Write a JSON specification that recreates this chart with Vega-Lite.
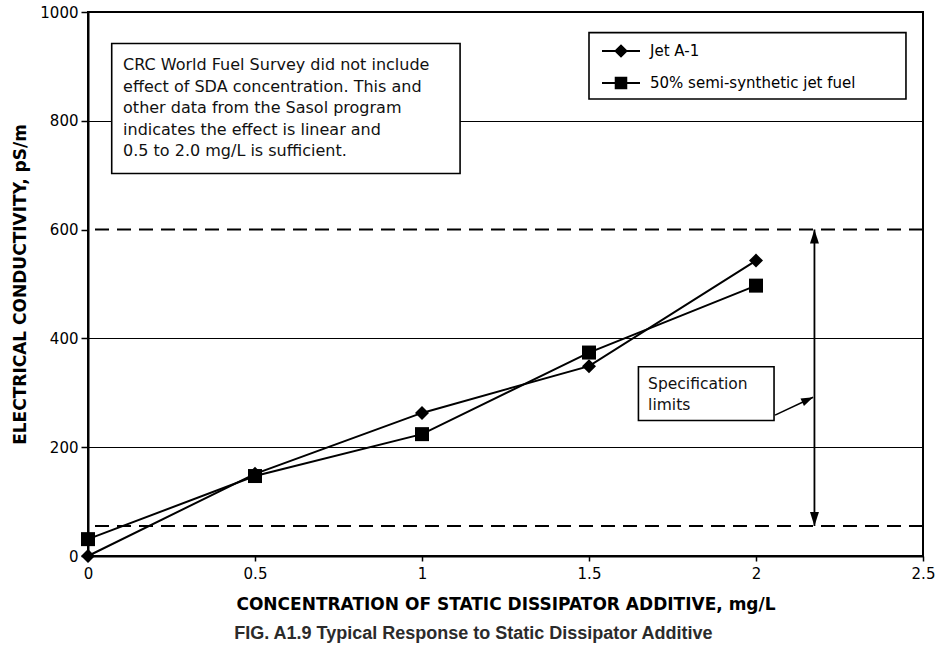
{
  "$schema": "https://vega.github.io/schema/vega-lite/v6.json",
  "width": 835,
  "height": 544,
  "autosize": {"type": "none"},
  "padding": {"left": 88, "top": 12, "right": 15, "bottom": 101},
  "background": "white",
  "view": {"stroke": "black", "strokeWidth": 2},
  "title": {
    "text": "FIG. A1.9 Typical Response to Static Dissipator Additive",
    "orient": "bottom",
    "anchor": "middle",
    "frame": "bounds",
    "font": "Liberation Sans",
    "fontSize": 18,
    "fontWeight": "bold",
    "color": "#2b2b2b",
    "offset": 13
  },
  "config": {
    "axis": {
      "domainColor": "black",
      "domainWidth": 2,
      "tickColor": "black",
      "tickWidth": 1.5,
      "labelFont": "DejaVu Sans",
      "labelFontSize": 15,
      "labelColor": "black",
      "labelFlush": false,
      "titleFont": "DejaVu Sans",
      "titleFontSize": 17,
      "titleFontWeight": "bold",
      "titleColor": "black"
    },
    "legend": {"labelFont": "DejaVu Sans"}
  },
  "datasets": {
    "series": [
      {"conc": 0, "ec": 0, "fuel": "Jet A-1"},
      {"conc": 0.5, "ec": 151, "fuel": "Jet A-1"},
      {"conc": 1, "ec": 263, "fuel": "Jet A-1"},
      {"conc": 1.5, "ec": 349, "fuel": "Jet A-1"},
      {"conc": 2, "ec": 543, "fuel": "Jet A-1"},
      {"conc": 0, "ec": 31, "fuel": "50% semi-synthetic jet fuel"},
      {"conc": 0.5, "ec": 147, "fuel": "50% semi-synthetic jet fuel"},
      {"conc": 1, "ec": 224, "fuel": "50% semi-synthetic jet fuel"},
      {"conc": 1.5, "ec": 374, "fuel": "50% semi-synthetic jet fuel"},
      {"conc": 2, "ec": 497, "fuel": "50% semi-synthetic jet fuel"}
    ],
    "limits": [{"ec": 600}, {"ec": 55}],
    "span": [{"conc": 2.175, "lo": 55, "hi": 600}],
    "boxes": [
      {"x1": 0.071, "x2": 1.114, "y1": 703, "y2": 942},
      {"x1": 1.648, "x2": 2.054, "y1": 249, "y2": 348},
      {"x1": 1.5, "x2": 2.449, "y1": 840, "y2": 962}
    ],
    "note1": [
      {"conc": 0.105, "ec": 893, "label": "CRC World Fuel Survey did not include\neffect of SDA concentration. This and\nother data from the Sasol program\nindicates the effect is linear and\n0.5 to 2.0 mg/L is sufficient."}
    ],
    "note2": [
      {"conc": 1.677, "ec": 307, "label": "Specification\nlimits"}
    ],
    "pointer": [{"xa": 2.057, "ya": 259, "xb": 2.171, "yb": 292}]
  },
  "layer": [
    {
      "data": {"name": "series"},
      "mark": {"type": "line", "color": "black", "strokeWidth": 2},
      "encoding": {
        "x": {
          "field": "conc", "type": "quantitative",
          "scale": {"domain": [0, 2.5], "nice": false},
          "axis": {
            "title": "CONCENTRATION OF STATIC DISSIPATOR ADDITIVE, mg/L",
            "values": [0, 0.5, 1, 1.5, 2, 2.5],
            "format": "~g",
            "grid": false,
            "tickSize": 5,
            "labelPadding": 5,
            "titlePadding": 15
          }
        },
        "y": {
          "field": "ec", "type": "quantitative",
          "scale": {"domain": [0, 1000], "nice": false},
          "axis": {
            "title": "ELECTRICAL CONDUCTIVITY, pS/m",
            "values": [0, 200, 400, 600, 800, 1000],
            "format": "d",
            "grid": true,
            "gridColor": "black",
            "gridWidth": 1,
            "gridOpacity": {"condition": {"test": "datum.value == 600", "value": 0}, "value": 1},
            "tickSize": 7,
            "labelPadding": 3,
            "titlePadding": 10
          }
        },
        "detail": {"field": "fuel"}
      }
    },
    {
      "data": {"name": "limits"},
      "mark": {"type": "rule", "color": "black", "strokeWidth": 2, "strokeDash": [14, 8]},
      "encoding": {"y": {"field": "ec", "type": "quantitative"}}
    },
    {
      "data": {"name": "span"},
      "mark": {"type": "rule", "color": "black", "strokeWidth": 1.8},
      "encoding": {
        "x": {"field": "conc", "type": "quantitative"},
        "y": {"field": "lo", "type": "quantitative"},
        "y2": {"field": "hi"}
      }
    },
    {
      "data": {"name": "span"},
      "mark": {"type": "point", "filled": true, "color": "black", "opacity": 1, "size": 784, "shape": "M0,0L-0.32,1L0.32,1Z"},
      "encoding": {
        "x": {"field": "conc", "type": "quantitative"},
        "y": {"field": "hi", "type": "quantitative"}
      }
    },
    {
      "data": {"name": "span"},
      "mark": {"type": "point", "filled": true, "color": "black", "opacity": 1, "size": 784, "shape": "M0,0L-0.32,-1L0.32,-1Z"},
      "encoding": {
        "x": {"field": "conc", "type": "quantitative"},
        "y": {"field": "lo", "type": "quantitative"}
      }
    },
    {
      "data": {"name": "series"},
      "mark": {"type": "point", "filled": true, "color": "black", "opacity": 1, "size": 196},
      "encoding": {
        "x": {"field": "conc", "type": "quantitative"},
        "y": {"field": "ec", "type": "quantitative"},
        "shape": {
          "field": "fuel", "type": "nominal",
          "scale": {"domain": ["Jet A-1", "50% semi-synthetic jet fuel"], "range": ["diamond", "square"]},
          "legend": null
        }
      }
    },
    {
      "data": {"name": "boxes"},
      "mark": {"type": "rect", "fill": "white", "stroke": "black", "strokeWidth": 1.6},
      "encoding": {
        "x": {"field": "x1", "type": "quantitative"},
        "x2": {"field": "x2"},
        "y": {"field": "y1", "type": "quantitative"},
        "y2": {"field": "y2"}
      }
    },
    {
      "data": {"name": "series"},
      "mark": {"type": "point", "filled": true, "color": "black", "opacity": 0, "size": 10},
      "encoding": {
        "x": {"field": "conc", "type": "quantitative"},
        "y": {"field": "ec", "type": "quantitative"},
        "shape": {
          "field": "fuel", "type": "nominal",
          "scale": {
            "domain": ["Jet A-1", "50% semi-synthetic jet fuel"],
            "range": [
              "M-1,-0.055L1,-0.055L1,0.055L-1,0.055ZM0,-0.36L0.36,0L0,0.36L-0.36,0Z",
              "M-1,-0.055L1,-0.055L1,0.055L-1,0.055ZM-0.33,-0.33L0.33,-0.33L0.33,0.33L-0.33,0.33Z"
            ]
          },
          "legend": {
            "title": null,
            "orient": "none",
            "legendX": 514,
            "legendY": 29,
            "padding": 0,
            "symbolSize": 1444,
            "symbolFillColor": "black",
            "symbolOpacity": 1,
            "symbolStrokeWidth": 0,
            "clipHeight": 20,
            "rowPadding": 12,
            "labelOffset": 10,
            "labelFont": "DejaVu Sans",
            "labelFontSize": 15,
            "labelColor": "black",
            "labelLimit": 400
          }
        }
      }
    },
    {
      "data": {"name": "note1"},
      "mark": {"type": "text", "align": "left", "baseline": "alphabetic", "font": "DejaVu Sans", "fontSize": 16, "color": "#111", "lineBreak": "\n", "lineHeight": 21.5},
      "encoding": {
        "x": {"field": "conc", "type": "quantitative"},
        "y": {"field": "ec", "type": "quantitative"},
        "text": {"field": "label"}
      }
    },
    {
      "data": {"name": "note2"},
      "mark": {"type": "text", "align": "left", "baseline": "alphabetic", "font": "DejaVu Sans", "fontSize": 15.5, "color": "#111", "lineBreak": "\n", "lineHeight": 21},
      "encoding": {
        "x": {"field": "conc", "type": "quantitative"},
        "y": {"field": "ec", "type": "quantitative"},
        "text": {"field": "label"}
      }
    },
    {
      "data": {"name": "pointer"},
      "mark": {"type": "rule", "color": "black", "strokeWidth": 1.6},
      "encoding": {
        "x": {"field": "xa", "type": "quantitative"},
        "y": {"field": "ya", "type": "quantitative"},
        "x2": {"field": "xb"},
        "y2": {"field": "yb"}
      }
    },
    {
      "data": {"name": "pointer"},
      "mark": {"type": "point", "filled": true, "color": "black", "opacity": 1, "size": 576, "angle": -25, "shape": "M0,0L-1,-0.34L-1,0.34Z"},
      "encoding": {
        "x": {"field": "xb", "type": "quantitative"},
        "y": {"field": "yb", "type": "quantitative"}
      }
    }
  ],
  "resolve": {"scale": {"shape": "independent"}}
}
